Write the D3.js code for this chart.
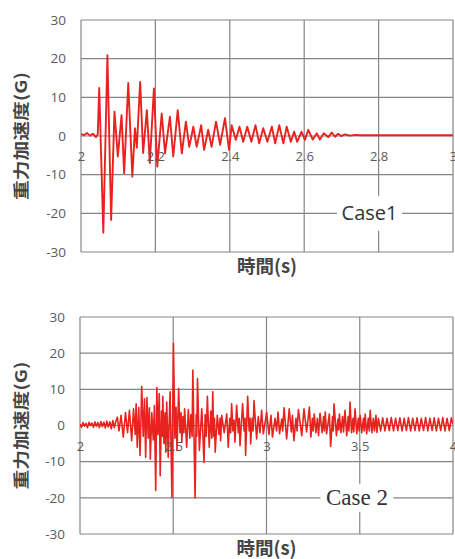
<!DOCTYPE html>
<html lang="ja">
<head>
    <meta charset="UTF-8"/>
    <title>重力加速度</title>
    <script src="https://d3js.org/d3.v7.min.js"></script>
    <style>
        body {
            margin: 0;
            background: white;
        }

        svg {
            display: block;
        }
    </style>
</head>
<body>
<div id="chart"></div>

<script>
    // ---- data ----
    const yTicks = [-30, -20, -10, 0, 10, 20, 30];
    const case1XTicks = [2, 2.2, 2.4, 2.6, 2.8, 3];
    const case2XTicks = [2, 2.5, 3, 3.5, 4];
    const xTitle = "時間(s)";
    const yTitle = "重力加速度(G)";

    const case1Time = [
        2.000, 2.008, 2.016, 2.024, 2.032, 2.040, 2.045, 2.049, 2.060, 2.071,
        2.081, 2.090, 2.099, 2.109, 2.116, 2.127, 2.138, 2.145, 2.150, 2.159,
        2.167, 2.177, 2.185, 2.196, 2.205, 2.217, 2.226, 2.239, 2.248, 2.260,
        2.271, 2.282, 2.291, 2.302, 2.311, 2.323, 2.331, 2.342, 2.351, 2.363,
        2.374, 2.387, 2.398, 2.405, 2.416, 2.426, 2.436, 2.447, 2.458, 2.469,
        2.479, 2.490, 2.501, 2.513, 2.522, 2.533, 2.544, 2.553, 2.564, 2.573,
        2.581, 2.593, 2.602, 2.611, 2.623, 2.634, 2.642, 2.653, 2.665, 2.674,
        2.683, 2.691, 2.699, 2.710, 2.723, 2.737, 2.750, 3.000
    ];
    const case1Accel = [
        0.5, 0.2, 0.8, 0.1, 0.6, -0.3, 0.4, 12.4, -25.0, 20.9,
        -21.7, 6.3, -5.3, 5.4, -9.6, 13.7, -10.5, 2.0, -3.0, 14.0,
        -4.4, 6.7, -7.0, 12.3, -7.9, 5.8, -4.5, 5.0, -5.3, 6.7,
        -4.5, 3.7, -2.8, 2.4, -2.8, 2.8, -3.6, 1.6, -2.8, 3.7,
        -2.3, 4.6, -3.6, 2.8, -1.0, 2.4, -1.5, 2.4, -1.5, 2.8,
        -1.9, 2.0, -1.5, 2.4, -1.9, 2.8, -1.9, 2.4, -1.5, 1.1,
        -1.5, 1.1, -1.0, 1.6, -0.9, 0.7, -0.9, 0.7, -0.3, 0.9,
        -0.2, 0.6, 0.0, 0.4, 0.1, 0.3, 0.2, 0.2
    ];

    const case2Time = [
        2.000, 2.008, 2.016, 2.024, 2.032, 2.040, 2.048, 2.056, 2.064, 2.072,
        2.080, 2.088, 2.096, 2.104, 2.112, 2.120, 2.128, 2.136, 2.144, 2.152,
        2.160, 2.168, 2.176, 2.184, 2.192, 2.200, 2.209, 2.220, 2.232, 2.244,
        2.255, 2.265, 2.277, 2.287, 2.296, 2.301, 2.307, 2.315, 2.322, 2.331,
        2.339, 2.346, 2.352, 2.359, 2.366, 2.372, 2.377, 2.385, 2.393, 2.399,
        2.406, 2.412, 2.418, 2.425, 2.430, 2.437, 2.441, 2.444, 2.450, 2.456,
        2.460, 2.465, 2.473, 2.483, 2.493, 2.501, 2.509, 2.515, 2.520, 2.529,
        2.536, 2.542, 2.546, 2.552, 2.557, 2.561, 2.572, 2.581, 2.589, 2.595,
        2.601, 2.605, 2.617, 2.623, 2.626, 2.630, 2.640, 2.653, 2.665, 2.671,
        2.677, 2.683, 2.693, 2.701, 2.707, 2.712, 2.717, 2.721, 2.725, 2.736,
        2.745, 2.751, 2.754, 2.760, 2.773, 2.787, 2.795, 2.803, 2.808, 2.813,
        2.820, 2.826, 2.831, 2.840, 2.849, 2.854, 2.858, 2.872, 2.880, 2.885,
        2.888, 2.899, 2.907, 2.912, 2.915, 2.923, 2.928, 2.933, 2.947, 2.956,
        2.965, 2.974, 2.983, 3.001, 3.013, 3.024, 3.032, 3.046, 3.054, 3.062,
        3.070, 3.082, 3.087, 3.094, 3.108, 3.122, 3.133, 3.139, 3.147, 3.158,
        3.164, 3.171, 3.189, 3.201, 3.215, 3.230, 3.238, 3.246, 3.250, 3.256,
        3.265, 3.273, 3.279, 3.287, 3.298, 3.306, 3.310, 3.315, 3.322, 3.337,
        3.344, 3.354, 3.358, 3.362, 3.375, 3.383, 3.387, 3.391, 3.399, 3.408,
        3.413, 3.421, 3.430, 3.438, 3.442, 3.448, 3.456, 3.464, 3.468, 3.475,
        3.484, 3.492, 3.497, 3.502, 3.511, 3.520, 3.524, 3.529, 3.537, 3.546,
        3.551, 3.556, 3.565, 3.573, 3.579, 3.587, 3.592, 3.600, 3.612, 3.623,
        3.635, 3.646, 3.658, 3.669, 3.681, 3.692, 3.704, 3.715, 3.727, 3.738,
        3.750, 3.761, 3.773, 3.784, 3.796, 3.807, 3.819, 3.830, 3.842, 3.853,
        3.865, 3.876, 3.888, 3.899, 3.911, 3.922, 3.934, 3.945, 3.957, 3.968,
        3.980, 3.991, 4.000
    ];
    const case2Accel = [
        0.4, -0.5, 0.8, -0.2, 0.6, -0.6, 0.9, 0.0, 0.7, -0.5,
        1.0, -0.2, 0.8, -0.6, 1.1, -0.3, 0.9, -0.7, 1.2, -0.4,
        1.0, -0.9, 1.4, -0.6, 1.1, 2.3, -1.5, 2.8, -3.2, 3.6,
        -2.0, 4.2, -4.2, 4.6, -2.5, 6.0, -6.0, 5.0, -8.3, 10.8,
        -3.0, 7.4, -8.8, 7.7, -3.5, 4.9, -9.3, 3.5, -4.0, 5.5,
        -18.0, 10.5, -2.5, 8.8, -13.9, 4.0, -3.0, 8.1, -5.0, 3.5,
        -7.4, 6.5, -8.8, 9.3, -19.9, 22.7, -3.5, 5.0, -6.9, 10.2,
        -2.0, 3.5, -4.6, 2.5, -2.0, 4.6, -6.0, 4.4, -3.5, 3.0,
        -3.0, 15.3, -20.0, 3.0, -3.0, 13.0, -6.9, 4.6, -10.2, 3.0,
        -3.0, 8.1, -6.0, 4.0, -3.5, 9.3, -3.0, 2.0, -7.4, 2.8,
        -2.5, 2.0, -4.2, 2.8, -2.0, 3.2, -6.0, 2.0, -2.0, 6.0,
        -1.5, 1.5, -4.6, 5.6, -2.0, 2.0, -5.6, 6.0, -1.5, 2.0,
        -8.3, 8.1, -1.5, 2.0, -5.1, 2.0, -1.5, 6.9, -3.7, 2.5,
        -2.0, 4.2, -2.3, 3.7, -2.5, 2.8, -3.2, 2.0, -1.5, 3.7,
        -2.3, 1.8, -1.5, 4.9, -3.7, 4.6, -1.8, 2.8, -4.2, 2.0,
        -1.5, 4.4, -2.8, 4.6, -1.8, 5.1, -3.2, 2.0, -1.5, 3.2,
        -2.0, 2.0, -2.8, 3.4, -2.0, 2.5, -1.5, 3.7, -2.3, 3.2,
        -5.8, 2.5, -1.5, 6.0, -2.8, 1.8, -1.2, 3.2, -2.0, 2.5,
        -1.8, 4.2, -2.8, 2.5, -1.5, 6.5, -2.0, 2.0, -1.8, 4.6,
        -2.3, 2.0, -1.5, 2.8, -2.0, 2.0, -1.5, 3.2, -2.3, 2.0,
        -1.5, 4.2, -2.0, 2.0, -1.5, 2.8, -1.9, 2.0, -1.5, 2.1,
        -1.5, 2.0, -1.4, 2.2, -1.5, 2.0, -1.4, 2.1, -1.5, 2.0,
        -1.4, 2.2, -1.5, 2.0, -1.4, 2.1, -1.5, 2.0, -1.4, 2.2,
        -1.5, 2.0, -1.4, 2.1, -1.5, 2.0, -1.4, 2.2, -1.5, 2.0,
        -1.4, 2.1, 0.3
    ];

    const width = 455;
    const height = 559;
    const lineColor = "#e8221e";
    const gridColor = "#858585";
    const tickColor = "#5a5a5a";
    const titleColor = "#454545";

    const svg = d3.select("#chart")
        .append("svg")
        .attr("width", width)
        .attr("height", height);

    function drawPanel(p) {
        const data = p.time.map((t, i) => ({t: t, g: p.accel[i]}));
        const x = d3.scaleLinear().domain(p.xDomain).range([p.left, p.right]);
        const y = d3.scaleLinear().domain([-30, 30]).range([p.bottom, p.top]);
        const g = svg.append("g");

        // grid (outer lines double as the frame)
        g.append("g")
            .selectAll("line")
            .data(yTicks)
            .join("line")
            .attr("x1", p.left)
            .attr("x2", p.right)
            .attr("y1", d => y(d))
            .attr("y2", d => y(d))
            .attr("stroke", gridColor)
            .attr("stroke-width", 1.2);
        g.append("g")
            .selectAll("line")
            .data(p.xTicks)
            .join("line")
            .attr("x1", d => x(d))
            .attr("x2", d => x(d))
            .attr("y1", p.top)
            .attr("y2", p.bottom)
            .attr("stroke", gridColor)
            .attr("stroke-width", 1.2);

        // Y axis labels
        const yAxis = g.append("g")
            .attr("transform", `translate(${p.left}, 0)`)
            .call(d3.axisLeft(y).tickValues(yTicks).tickSize(0).tickPadding(15).tickFormat(d => d));
        yAxis.select(".domain").remove();
        yAxis.selectAll("text")
            .style("font-family", "'Open Sans', sans-serif")
            .style("font-size", "13.5px")
            .attr("fill", tickColor);

        // case label on a white box
        const label = g.append("g")
            .attr("transform", `translate(${x(p.labelAt)}, ${y(-20)})`);
        label.append("rect")
            .attr("x", -p.boxW / 2)
            .attr("y", -p.boxH / 2)
            .attr("width", p.boxW)
            .attr("height", p.boxH)
            .attr("fill", "white");
        label.append("text")
            .attr("text-anchor", "middle")
            .attr("y", p.labelDy)
            .style("font-family", p.labelFont)
            .style("font-size", p.labelSize)
            .attr("fill", "#333")
            .text(p.label);

        // signal
        const clipId = "clip-" + p.id;
        g.append("clipPath")
            .attr("id", clipId)
            .append("rect")
            .attr("x", p.left)
            .attr("y", p.top)
            .attr("width", p.right - p.left)
            .attr("height", p.bottom - p.top);
        const line = d3.line()
            .x(d => x(d.t))
            .y(d => y(d.g));
        g.append("path")
            .attr("clip-path", `url(#${clipId})`)
            .attr("d", line(data))
            .attr("fill", "none")
            .attr("stroke", lineColor)
            .attr("stroke-width", p.lineW)
            .attr("stroke-linejoin", "round");

        // X axis labels sit under the zero line
        const xAxis = g.append("g")
            .attr("transform", `translate(0, ${y(0)})`)
            .call(d3.axisBottom(x).tickValues(p.xTicks).tickSize(0).tickPadding(16).tickFormat(d => d));
        xAxis.select(".domain").remove();
        xAxis.selectAll("text")
            .style("font-family", "'Open Sans', sans-serif")
            .style("font-size", "13px")
            .attr("fill", tickColor);

        // titles
        g.append("text")
            .attr("x", (p.left + p.right) / 2)
            .attr("y", p.bottom + 21)
            .attr("text-anchor", "middle")
            .style("font-family", "'Noto Sans CJK JP', sans-serif")
            .style("font-size", "18.5px")
            .style("font-weight", "bold")
            .attr("fill", titleColor)
            .text(xTitle);
        g.append("text")
            .attr("transform", `translate(27, ${(p.top + p.bottom) / 2}) rotate(-90)`)
            .attr("text-anchor", "middle")
            .attr("textLength", 128)
            .attr("lengthAdjust", "spacingAndGlyphs")
            .style("font-family", "'Noto Sans CJK JP', sans-serif")
            .style("font-size", "16px")
            .style("font-weight", "bold")
            .attr("fill", titleColor)
            .text(yTitle);
    }

    drawPanel({
        id: 1, time: case1Time, accel: case1Accel,
        xDomain: [2, 3], xTicks: case1XTicks,
        left: 81, right: 453, top: 20, bottom: 252,
        label: "Case1", labelAt: 2.7755, labelFont: "'Open Sans', sans-serif",
        labelSize: "20px", labelDy: 7, boxW: 65, boxH: 35, lineW: 1.9
    });

    drawPanel({
        id: 2, time: case2Time, accel: case2Accel,
        xDomain: [2, 4], xTicks: case2XTicks,
        left: 80, right: 453, top: 317, bottom: 534,
        label: "Case 2", labelAt: 3.485, labelFont: "'Liberation Serif', serif",
        labelSize: "23px", labelDy: 7, boxW: 73, boxH: 28, lineW: 1.6
    });
</script>
</body>
</html>
